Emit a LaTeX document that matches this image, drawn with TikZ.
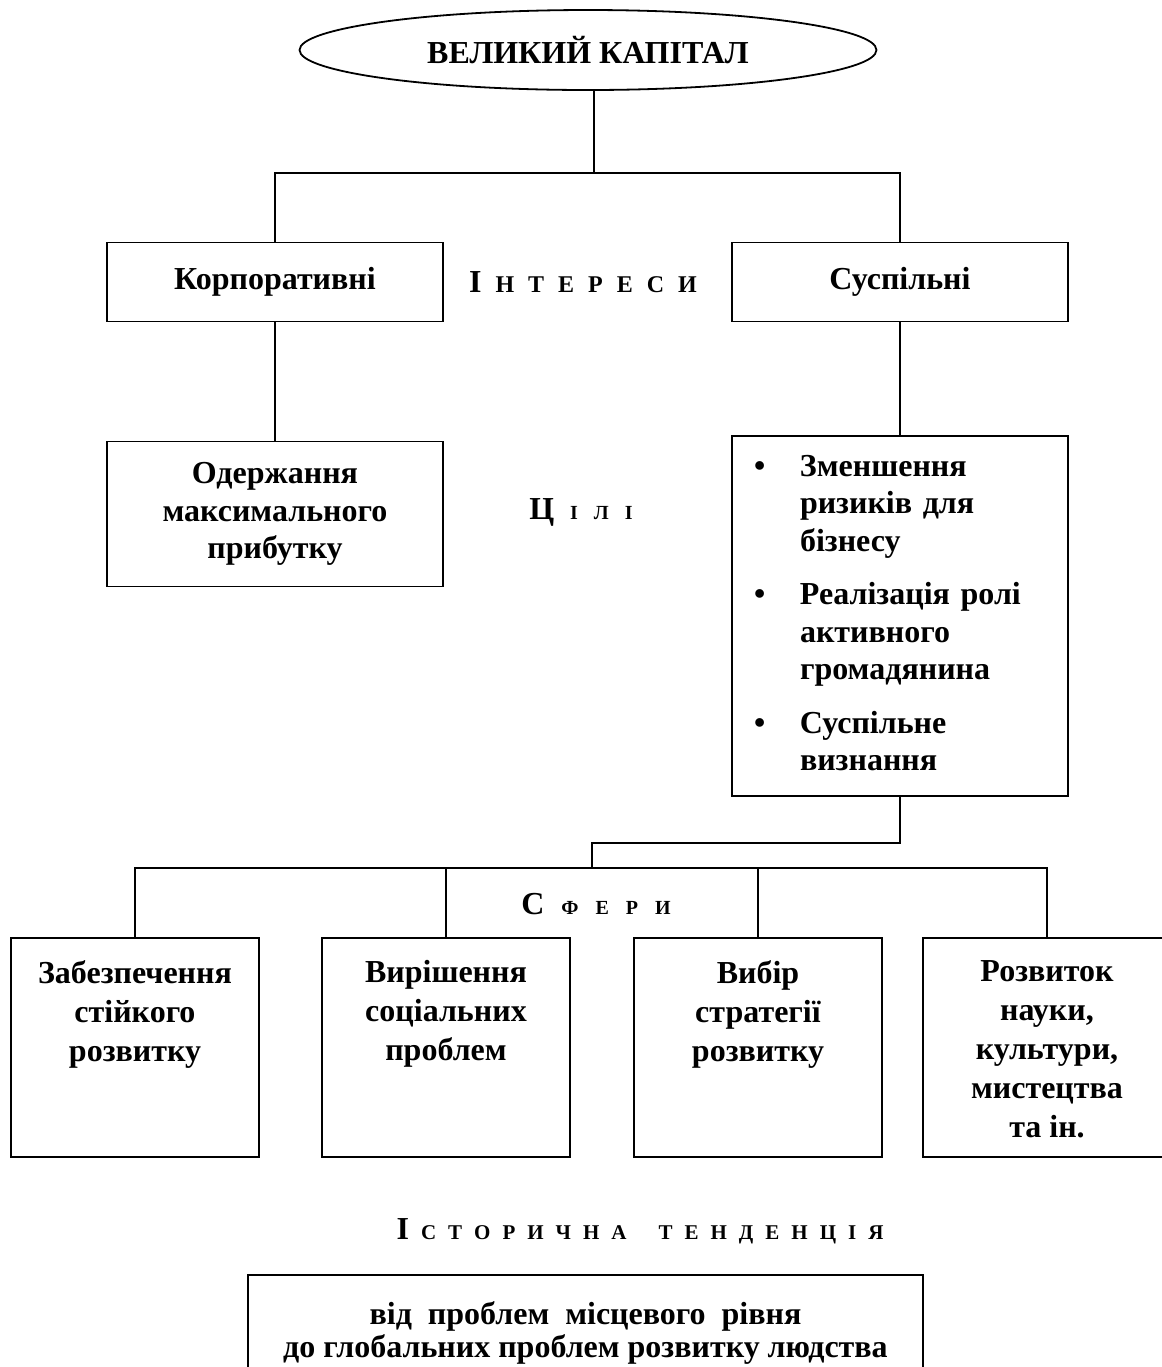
\documentclass[tikz,border=0pt]{standalone}
\usepackage{fontspec}
\setmainfont{Liberation Serif}
\usetikzlibrary{shapes.geometric}

\makeatletter
\newcommand\spreadout[2]{\@tfor\ch:=#2\do{\hspace{#1}\ch}}
\makeatother
\newcommand\topbox[1]{\parbox[c][87pt][t]{122pt}{\centering #1}}

\begin{document}
\begin{tikzpicture}[x=0.5pt,y=-0.5pt,line width=0.9pt,
  every node/.style={font=\fontsize{16}{18.75}\selectfont\bfseries},
  box/.style={draw,rectangle,inner sep=0pt,minimum width=168pt},
  sphere/.style={draw,rectangle,inner sep=0pt,minimum width=124pt,
    minimum height=109.5pt,font=\fontsize{16}{19.5}\selectfont\bfseries}]
\useasboundingbox (0,0) rectangle (1162,1367);
\clip (0,0) rectangle (1162,1367);

\node[draw,ellipse,inner sep=0pt,minimum width=288.5pt,minimum height=40pt] (cap) at (588,50) {ВЕЛИКИЙ КАПІТАЛ};

\node[box,minimum height=39.5pt] (corp) at (275,282) {Корпоративні};
\node[box,minimum height=39.5pt] (soc) at (900,282) {Суспільні};
\node (interests) at (583,282) {І{\fontsize{12}{14}\selectfont\spreadout{7pt}{НТЕРЕСИ}}};

\node[box,minimum height=72.5pt,align=center] (profit) at (275,514) {Одержання\\максимального\\прибутку};
\node[box,minimum height=180pt,inner xsep=11pt,text width=146pt,align=left] (goals) at (900,616) {%
\begin{tabular}{@{}p{23pt}@{}l@{}}
\textbullet & Зменшення\\
 & ризиків для\\
 & бізнесу\\[8pt]
\textbullet & Реалізація ролі\\
 & активного\\
 & громадянина\\[8pt]
\textbullet & Суспільне\\
 & визнання
\end{tabular}};
\node (aims) at (581,512) {Ц{\fontsize{10}{12}\selectfont\spreadout{8pt}{ІЛІ}}};

\foreach \x/\n/\t in {135/s1/{Забезпечення\\стійкого\\розвитку},
    446/s2/{Вирішення\\соціальних\\проблем},
    758/s3/{Вибір\\стратегії\\розвитку},
    1047/s4/{Розвиток\\науки,\\культури,\\мистецтва\\та ін.}}
  \node[sphere] (\n) at (\x,1047.5) {\topbox{\t}};
\node (spheres) at (596,904) {С{\fontsize{10}{12}\selectfont\spreadout{8.5pt}{ФЕРИ}}};

\node (trend) at (640,1231) {І{\fontsize{10.5}{12}\selectfont\spreadout{6pt}{СТОРИЧНА}\hspace{10pt}\spreadout{6pt}{ТЕНДЕНЦІЯ}}};
\node[draw,inner sep=0pt,minimum width=337.5pt,minimum height=57.5pt,align=center,
  font=\fontsize{16}{16.5}\selectfont\bfseries] (way) at (585.5,1332.5)
  {від\ \ проблем\ \ місцевого\ \ рівня\\до глобальних проблем розвитку людства};

\coordinate (bus1) at (594,173);
\draw ([xshift=3pt]cap.south) -- (bus1);
\draw (corp.north) |- (bus1) -| (soc.north);
\draw (corp.south) -- (profit.north);
\draw (soc.south) -- (goals.north);

\coordinate (bend) at (592,843);
\coordinate (bus2) at (592,868);
\draw (goals.south) |- (bend) -- (bus2);
\draw (s1.north) |- (bus2) -| (s4.north);
\draw (s2.north) -- (s2.north |- bus2);
\draw (s3.north) -- (s3.north |- bus2);
\end{tikzpicture}
\end{document}
